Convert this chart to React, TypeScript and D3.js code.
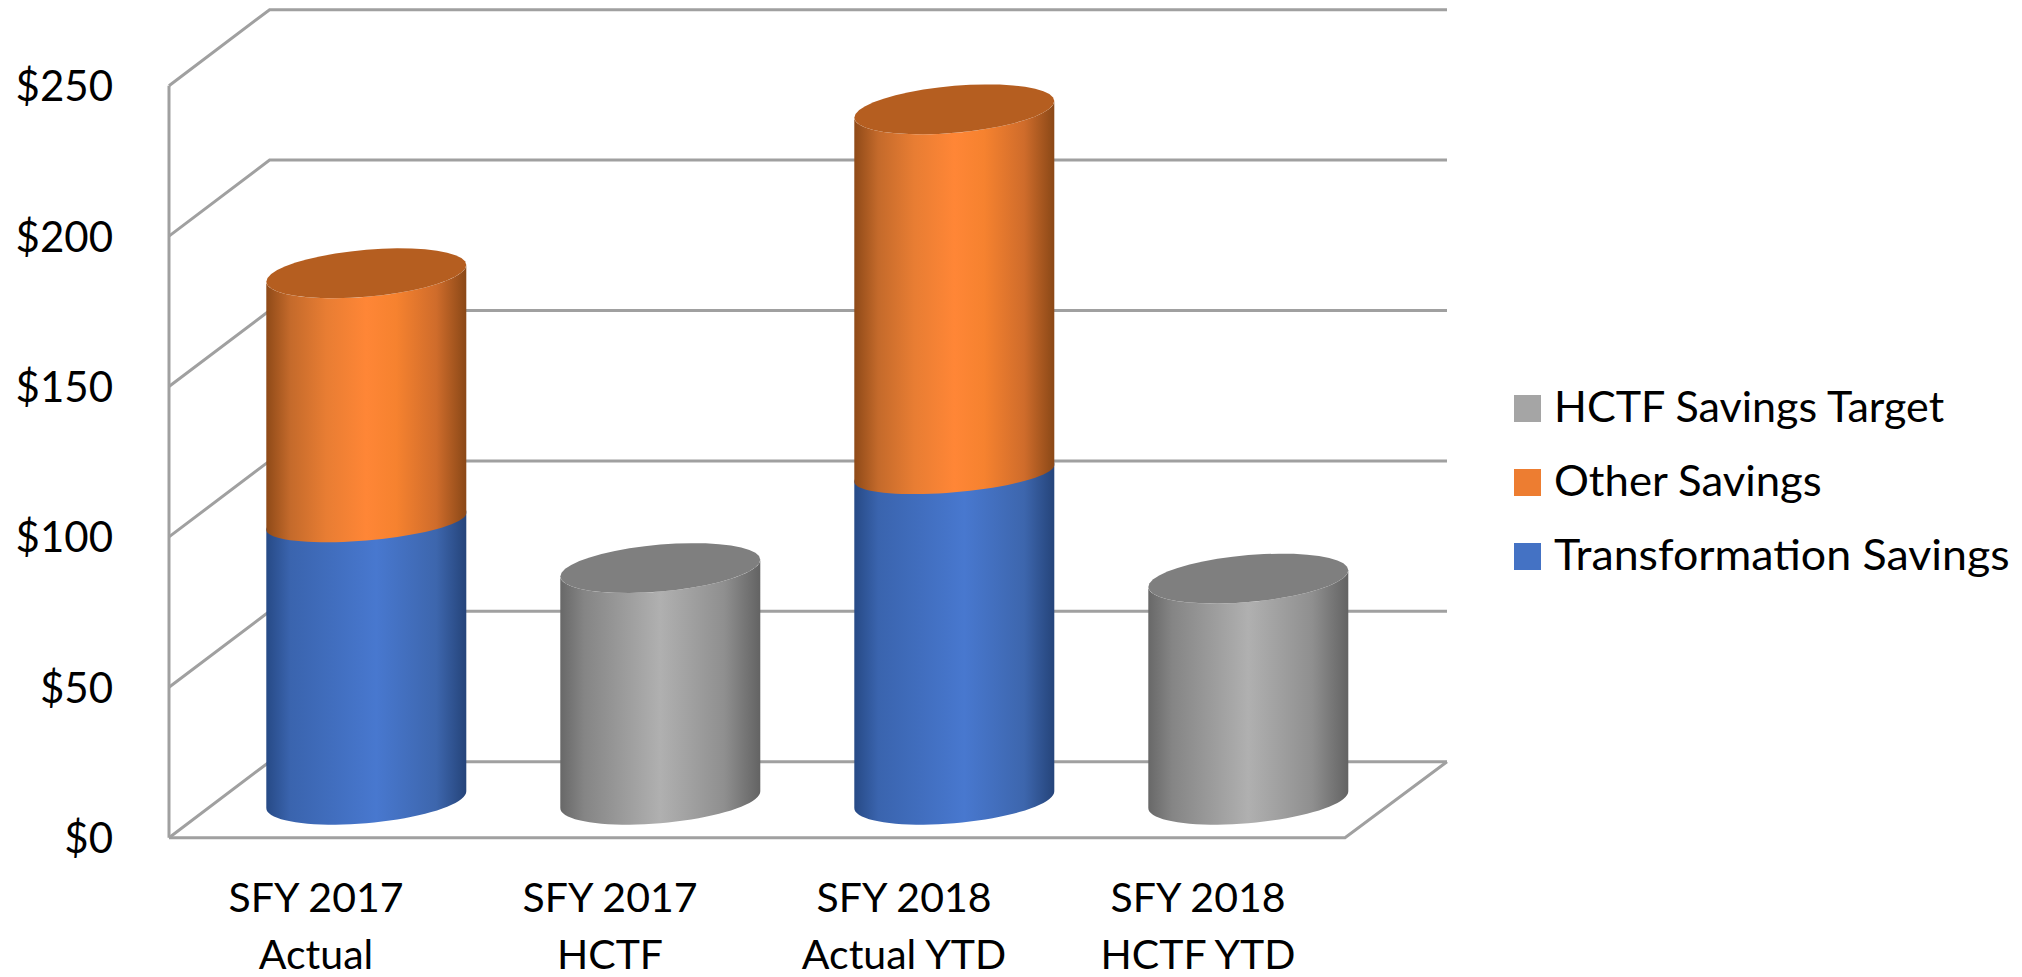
import React from "react";
import * as d3 from "d3";

const categories = [["SFY 2017", "Actual"], ["SFY 2017", "HCTF"], ["SFY 2018", "Actual YTD"], ["SFY 2018", "HCTF YTD"]];
const transformation = [92.5, 0, 108.5, 0];
const other = [82.5, 0, 121, 0];
const target = [0, 77, 0, 73.5];
const ticks = [0, 50, 100, 150, 200, 250];
const legendItems = [
  { label: "HCTF Savings Target", color: "#A5A5A5" },
  { label: "Other Savings", color: "#ED7D31" },
  { label: "Transformation Savings", color: "#4472C4" },
];
const legendStretch = [1.026, 1.04, 1.065];

const W = 2022, H = 977;
const y = d3.scaleLinear().domain([0, 250]).range([837.7, 85.7]);
const x = d3.scaleBand<number>().domain(d3.range(4)).range([169, 1345]);
const depthX = 100.6, depthY = -76;
const cylW = 200, tilt = 8.4, minor = 23.5, seamMinor = 19;
const FONT = "Lato, 'Noto Sans', sans-serif";
const GRID = "#A0A0A0";

const line = d3.line<[number, number]>();
const arc = (cx: number, cy: number, from: number, to: number, b = minor): [number, number][] =>
  d3.range(0, 41).map((i) => {
    const t = from + ((to - from) * i) / 40;
    return [cx + (cylW / 2) * Math.cos(t), cy - tilt * Math.cos(t) + b * Math.sin(t)];
  });

function Grad({ id, stops }: { id: string; stops: [number, string][] }) {
  return (
    <linearGradient id={id} x1="0" x2="1" y1="0" y2="0">
      {stops.map(([o, c]) => <stop key={o} offset={o} stopColor={c} />)}
    </linearGradient>
  );
}

function Cylinder({ i, v0, v1, fill, cap, baseMinor, topMinor }: { i: number; v0: number; v1: number; fill: string; cap?: string; baseMinor?: number; topMinor?: number }) {
  const cx = x(i)! + x.bandwidth() / 2 + depthX / 2;
  const yb = y(v0) + depthY / 2;
  const yt = y(v1) + depthY / 2;
  // lower half of the top rim (left to right via front), then lower half of the base (right to left)
  const body = [...arc(cx, yt, Math.PI, 0, topMinor ?? minor), ...arc(cx, yb, 0, Math.PI, baseMinor ?? minor)];
  return (
    <g>
      <path d={line(body)! + "Z"} fill={`url(#${fill})`} />
      {cap && <path d={line(arc(cx, yt, 0, 2 * Math.PI))! + "Z"} fill={cap} />}
    </g>
  );
}

export default function App() {
  return (
    <svg width={W} height={H} viewBox={`0 0 ${W} ${H}`} style={{ position: "absolute", left: 0, top: 0, background: "#fff" }}>
      <defs>
        <Grad id="blue" stops={[[0, "#274a86"], [0.12, "#3a64ae"], [0.55, "#4878CF"], [0.85, "#3d66ad"], [1, "#25447A"]]} />
        <Grad id="orange" stops={[[0, "#8F4A18"], [0.12, "#C46A2B"], [0.3, "#E87D33"], [0.5, "#FF8636"], [0.65, "#F6822F"], [0.85, "#CF6C2B"], [1, "#8A4817"]]} />
        <Grad id="grey" stops={[[0, "#686868"], [0.12, "#858585"], [0.5, "#B0B0B0"], [0.82, "#8F8F8F"], [1, "#636363"]]} />
      </defs>

      <g stroke={GRID} strokeWidth={3} fill="none">
        <line x1={169} x2={169} y1={y(250)} y2={y(0)} />
        {ticks.map((t) => (
          <path key={t} d={line([[169, y(t)], [169 + depthX, y(t) + depthY], [1447, y(t) + depthY]])!} />
        ))}
        <path d={line([[169, y(0)], [1345, y(0)], [1447, y(0) + depthY]])!} />
      </g>

      {categories.map((_, i) =>
        target[i] > 0 ? (
          <Cylinder key={i} i={i} v0={0} v1={target[i]} fill="grey" cap="#7F7F7F" />
        ) : (
          <g key={i}>
            <Cylinder i={i} v0={0} v1={transformation[i] + 1} fill="blue" topMinor={seamMinor} />
            <Cylinder i={i} v0={transformation[i]} v1={transformation[i] + other[i]} fill="orange" cap="#B55E20" baseMinor={seamMinor} />
          </g>
        )
      )}

      <g fontFamily={FONT} fontSize={41} fill="#000">
        {ticks.map((t) => (
          <text key={t} x={113} y={y(t) + 15.5} fontSize={42} textAnchor="end">{`$${t}`}</text>
        ))}
        {categories.map((c, i) => (
          <text key={i} textAnchor="middle" x={x(i)! + x.bandwidth() / 2}>
            <tspan x={x(i)! + x.bandwidth() / 2} y={912}>{c[0]}</tspan>
            <tspan x={x(i)! + x.bandwidth() / 2} y={968.5}>{c[1]}</tspan>
          </text>
        ))}
        {legendItems.map((d, i) => (
          <g key={d.label}>
            <rect x={1514} y={395 + i * 74} width={27} height={27} fill={d.color} />
            <text transform={`translate(1554,${421.5 + i * 74}) scale(${legendStretch[i]},1)`} fontSize={42}>{d.label}</text>
          </g>
        ))}
      </g>
    </svg>
  );
}
